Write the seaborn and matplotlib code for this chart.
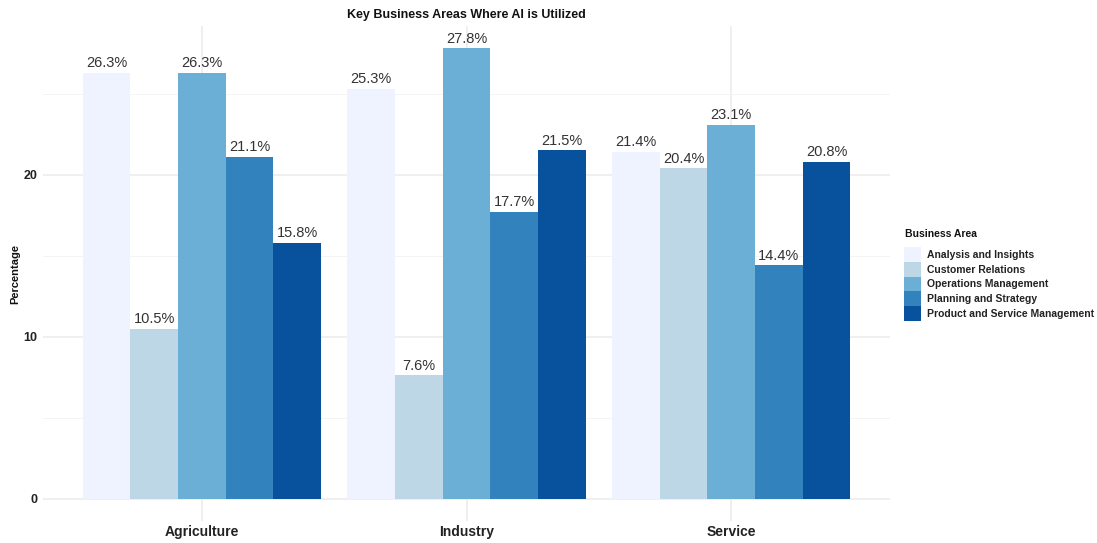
import matplotlib
matplotlib.use("Agg")
import matplotlib.pyplot as plt
from matplotlib.patches import Patch
import seaborn as sns
import pandas as pd

sectors = ["Agriculture", "Industry", "Service"]
areas = ["Analysis and Insights", "Customer Relations", "Operations Management",
         "Planning and Strategy", "Product and Service Management"]
agriculture = [26.3, 10.5, 26.3, 21.1, 15.8]
industry = [25.3, 7.6, 27.8, 17.7, 21.5]
service = [21.4, 20.4, 23.1, 14.4, 20.8]
colors = ["#EFF3FF", "#BDD7E7", "#6BAED6", "#3182BD", "#08519C"]

rows = []
for sector, vals in zip(sectors, [agriculture, industry, service]):
    for area, v in zip(areas, vals):
        rows.append({"Sector": sector, "Business Area": area, "Percentage": v})
df = pd.DataFrame(rows)

sns.set_theme(style="white")
plt.rcParams["font.family"] = ["Liberation Sans", "DejaVu Sans"]

fig = plt.figure(figsize=(10.97, 5.43), dpi=100)
W, H = 1097, 543
ax = fig.add_axes([43 / W, (H - 521) / H, (890 - 43) / W, (521 - 26) / H])

sns.barplot(data=df, x="Sector", y="Percentage", hue="Business Area",
            order=sectors, hue_order=areas, palette=colors, width=0.9,
            saturation=1, ax=ax, legend=False, edgecolor="none", linewidth=0)

ymax = max(agriculture + industry + service)
ax.set_ylim(-ymax * 0.05, ymax * 1.05)
ax.set_xlim(-0.6, 2.6)

# ggplot-minimal style grid
ax.set_axisbelow(True)
ax.set_yticks([0, 10, 20])
ax.set_yticks([5, 15, 25], minor=True)
ax.grid(axis="y", which="major", color="#EBEBEB", linewidth=1.1)
ax.grid(axis="y", which="minor", color="#F2F2F2", linewidth=0.6)
ax.grid(axis="x", which="major", color="#EBEBEB", linewidth=1.1)
for s in ax.spines.values():
    s.set_visible(False)
ax.tick_params(axis="both", which="both", length=0, pad=4)
ax.tick_params(axis="x", pad=3)

for lbl in ax.get_xticklabels():
    lbl.set_fontweight("bold")
    lbl.set_fontsize(10)
    lbl.set_color("#222222")
for lbl in ax.get_yticklabels():
    lbl.set_fontweight("bold")
    lbl.set_fontsize(9)
    lbl.set_color("#222222")

ax.set_xlabel("")
ax.set_ylabel("Percentage", fontsize=8, fontweight="bold", color="#111111")
ax.yaxis.set_label_coords(-0.027, 0.5)

for cont in ax.containers:
    ax.bar_label(cont, fmt="%.1f%%", padding=2, fontsize=10.5, color="#333333")

fig.text(466 / W, 1 - 15 / H, "Key Business Areas Where AI is Utilized",
         ha="center", va="center", fontsize=9, fontweight="bold", color="#111111")

# legend: title text placed above the key column
fig.text(905 / W, 1 - 234 / H, "Business Area", ha="left", va="center",
         fontsize=7.5, fontweight="bold", color="#111111")
handles = [Patch(facecolor=c, edgecolor="none", label=a) for c, a in zip(colors, areas)]
leg = fig.legend(handles=handles, loc="upper left",
                 bbox_to_anchor=(900 / W, 1 - 243 / H), frameon=False,
                 fontsize=7.5, handlelength=1.6, handleheight=1.8,
                 handletextpad=0.6, labelspacing=0.0, borderaxespad=0)
for t in leg.get_texts():
    t.set_fontweight("bold")
    t.set_color("#222222")

fig.savefig("out.png", dpi=100, facecolor="white")
